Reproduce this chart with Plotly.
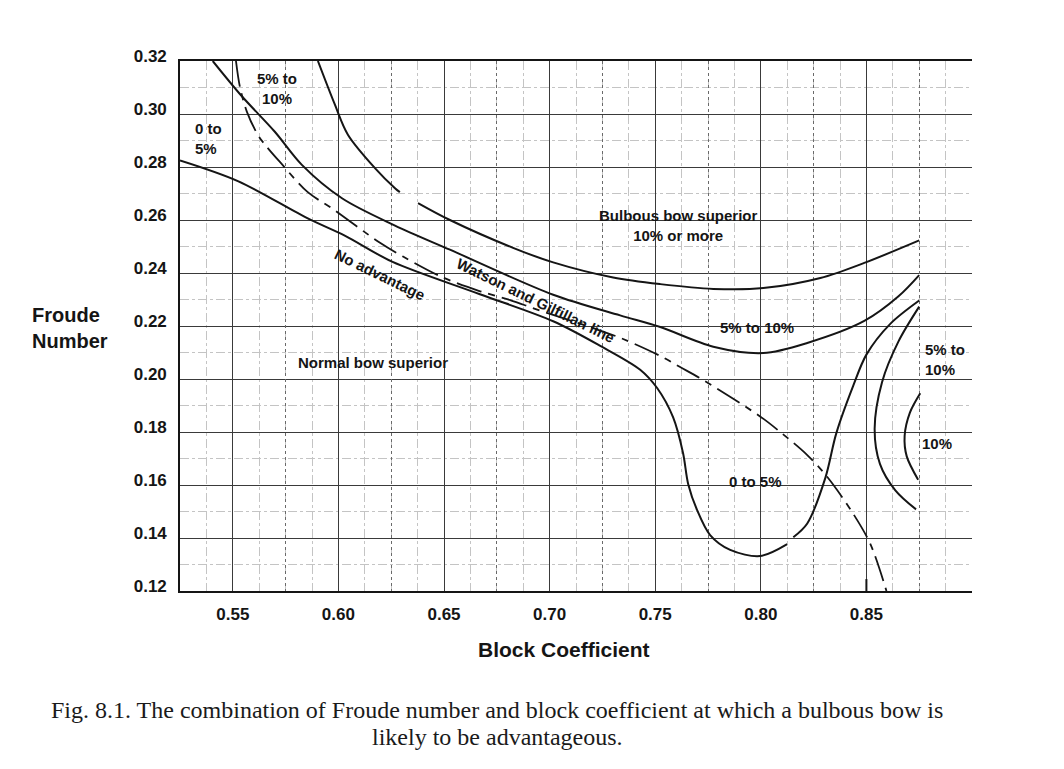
import plotly.graph_objects as go

# --- curve data: block coefficient (cb) vs Froude number (fn) ---
# lower boundary: "No advantage" line continuing into the 0-5% pocket
no_adv_cb = [0.525, 0.5524, 0.5855, 0.603, 0.6254, 0.667, 0.7017, 0.724,
             0.7429, 0.751, 0.7585, 0.7632, 0.7656, 0.7698, 0.776, 0.7855, 0.7997, 0.8125,
             None,
             0.8154, 0.822, 0.8306, 0.8357, 0.8437, 0.85, 0.8613, 0.875]
no_adv_fn = [0.2825, 0.2747, 0.2606, 0.2541, 0.2443, 0.232, 0.2218, 0.2125,
             0.2035, 0.1965, 0.1855, 0.172, 0.1604, 0.1506, 0.1411, 0.1355, 0.1332, 0.1377,
             None,
             0.1403, 0.1455, 0.1628, 0.1794, 0.1973, 0.2092, 0.2208, 0.2296]

# boundary between "0 to 5%" and "5% to 10%"
b5_cb = [0.5405, 0.5543, 0.5699, 0.5827, 0.6017, 0.6268, 0.6528, 0.7017, 0.7334,
         0.7524, 0.7775, 0.8012, 0.822, 0.849, 0.8652, 0.875]
b5_fn = [0.32, 0.3067, 0.2933, 0.2808, 0.2682, 0.2579, 0.2488, 0.2318, 0.224,
         0.2196, 0.2122, 0.2098, 0.2136, 0.2219, 0.2312, 0.2392]

# boundary between "5% to 10%" and "10% or more"
b10_cb = [0.5903, 0.5983, 0.6045, 0.6173, 0.6268, 0.6291,
          None,
          0.6377, 0.6528, 0.6827, 0.7017, 0.7301, 0.7524, 0.7775, 0.8012, 0.8282,
          0.849, 0.875]
b10_fn = [0.32, 0.3036, 0.2922, 0.2796, 0.272, 0.2705,
          None,
          0.2664, 0.26, 0.2495, 0.244, 0.2383, 0.2358, 0.234, 0.2343, 0.2381,
          0.2438, 0.2523]

# Watson and Gilfillan line (dashed)
wg_cb = [0.5515, 0.5533, 0.5566, 0.5618, 0.5661, 0.5723, 0.5855, 0.5969, 0.6197,
         0.6306, 0.6495, 0.6671, 0.6813, 0.6941, 0.7206, 0.7348, 0.7524, 0.7618,
         0.7727, 0.80, 0.8092, 0.822, 0.8315, 0.8438, 0.8519, 0.8595]
wg_fn = [0.32, 0.3105, 0.301, 0.2922, 0.2876, 0.2819, 0.2705, 0.2644, 0.2514,
         0.2462, 0.2383, 0.2331, 0.2298, 0.2262, 0.2192, 0.2151, 0.2087, 0.2045,
         0.1996, 0.1857, 0.18, 0.1713, 0.163, 0.1491, 0.1377, 0.12]

# outer arc bounding the right-hand "5% to 10%" region
arc_outer_cb = [0.875, 0.8652, 0.8574, 0.8539, 0.8564, 0.8637, 0.8735]
arc_outer_fn = [0.2273, 0.2142, 0.1988, 0.1812, 0.168, 0.158, 0.1508]

# inner arc bounding the "10%" region
arc_inner_cb = [0.8755, 0.8706, 0.8681, 0.8691, 0.8745]
arc_inner_fn = [0.1946, 0.1873, 0.1785, 0.1708, 0.162]

# short stroke at the foot of Cb = 0.85
stub_cb = [0.85, 0.85]
stub_fn = [0.12, 0.1245]

x_ticks = [0.55, 0.60, 0.65, 0.70, 0.75, 0.80, 0.85]
x_tick_text = ["0.55", "0.60", "0.65", "0.70", "0.75", "0.80", "0.85"]
x_mid_lines = [0.575, 0.625, 0.675, 0.725, 0.775, 0.825, 0.875, 0.90]
y_ticks = [0.12, 0.14, 0.16, 0.18, 0.20, 0.22, 0.24, 0.26, 0.28, 0.30, 0.32]
y_tick_text = ["0.12", "0.14", "0.16", "0.18", "0.20", "0.22", "0.24", "0.26",
               "0.28", "0.30", "0.32"]

# region labels: (text, cb, fn, angle, xanchor)
region_labels = [
    ("5% to<br>10%", 0.5709, 0.3095, 0, "center"),
    ("0 to<br>5%", 0.531, 0.2909, 0, "left"),
    ("Bulbous bow superior<br>10% or more", 0.7609, 0.2581, 0, "center"),
    ("No advantage", 0.6197, 0.2396, 26, "center"),
    ("Watson and Gilfillan line", 0.6936, 0.2297, 26, "center"),
    ("5% to 10%", 0.7983, 0.2195, 0, "center"),
    ("Normal bow superior", 0.6163, 0.2062, 0, "center"),
    ("5% to<br>10%", 0.8769, 0.2072, 0, "left"),
    ("10%", 0.8755, 0.1755, 0, "left"),
    ("0 to 5%", 0.7974, 0.1612, 0, "center"),
]

SANS = "Liberation Sans, Arial, sans-serif"
SERIF = "Liberation Serif, Times New Roman, serif"
INK = "#151515"

fig = go.Figure()

solid = dict(color=INK, width=2)
for cb, fn in [(no_adv_cb, no_adv_fn), (b5_cb, b5_fn), (b10_cb, b10_fn),
               (arc_outer_cb, arc_outer_fn), (arc_inner_cb, arc_inner_fn),
               (stub_cb, stub_fn)]:
    fig.add_trace(go.Scatter(x=cb, y=fn, mode="lines",
                             line=dict(shape="spline", smoothing=0.9, **solid),
                             connectgaps=False, hoverinfo="skip", showlegend=False))

fig.add_trace(go.Scatter(x=wg_cb, y=wg_fn, mode="lines",
                         line=dict(color=INK, width=1.8, shape="spline", smoothing=0.9,
                                   dash="26px,7px,7px,7px"),
                         hoverinfo="skip", showlegend=False))

# carrier for the secondary (quarter-step) grid
fig.add_trace(go.Scatter(x=[], y=[], xaxis="x2", showlegend=False, hoverinfo="skip"))

for text, cb, fn, ang, anchor in region_labels:
    fig.add_annotation(x=cb, y=fn, text="<b>" + text + "</b>", showarrow=False, textangle=ang,
                       xanchor=anchor, yanchor="middle",
                       align=anchor if anchor != "center" else "center",
                       font=dict(family=SANS, size=15, color=INK))

# axis titles and figure caption
fig.add_annotation(xref="paper", yref="paper", x=-0.189, y=0.496, text="<b>Froude<br>Number</b>",
                   showarrow=False, xanchor="left", yanchor="middle", align="left",
                   font=dict(family=SANS, size=20, color=INK))
fig.add_annotation(xref="paper", yref="paper", x=0.485, y=-0.111, text="<b>Block Coefficient</b>",
                   showarrow=False, xanchor="center", yanchor="middle",
                   font=dict(family=SANS, size=21, color=INK))
fig.add_annotation(xref="paper", yref="paper", x=0.4003, y=-0.2245,
                   text="Fig. 8.1. The combination of Froude number and block coefficient at which a bulbous bow is",
                   showarrow=False, xanchor="center", yanchor="middle",
                   font=dict(family=SERIF, size=24, color="#1a1a1a"))
fig.add_annotation(xref="paper", yref="paper", x=0.4003, y=-0.2755,
                   text="likely to be advantageous.",
                   showarrow=False, xanchor="center", yanchor="middle",
                   font=dict(family=SERIF, size=24, color="#1a1a1a"))

fig.update_layout(
    width=1064, height=769,
    margin=dict(l=180, r=92, t=61, b=178),
    paper_bgcolor="white", plot_bgcolor="white",
    font=dict(family=SANS, color=INK),
    xaxis=dict(range=[0.525, 0.90], tickmode="array", tickvals=x_ticks, ticktext=x_tick_text,
               tickfont=dict(family=SANS, size=17, color=INK, weight="bold"),
               showgrid=True, gridcolor="#3a3a3a", gridwidth=1.3,
               minor=dict(tick0=0.525, dtick=0.0125, showgrid=True, gridcolor="#c4c4c4",
                          gridwidth=1, griddash="dashdot"),
               showline=True, linecolor=INK, linewidth=1.6, mirror=True,
               ticks="", ticklabelstandoff=7, zeroline=False, fixedrange=True),
    xaxis2=dict(range=[0.525, 0.90], overlaying="x", tickmode="array", tickvals=x_mid_lines,
                showticklabels=False, ticks="", showgrid=True, gridcolor="#6a6a6a",
                gridwidth=1.2, griddash="dot", zeroline=False, showline=False),
    yaxis=dict(range=[0.12, 0.32], tickmode="array", tickvals=y_ticks, ticktext=y_tick_text,
               tickfont=dict(family=SANS, size=17, color=INK, weight="bold"),
               showgrid=True, gridcolor="#3a3a3a", gridwidth=1.3,
               minor=dict(tick0=0.12, dtick=0.01, showgrid=True, gridcolor="#c4c4c4",
                          gridwidth=1, griddash="dashdot"),
               showline=True, linecolor=INK, linewidth=1.6, mirror=False,
               ticks="", ticklabelstandoff=8, ticklabelshift=-5, zeroline=False, fixedrange=True),
)

fig.write_html("out.html")
